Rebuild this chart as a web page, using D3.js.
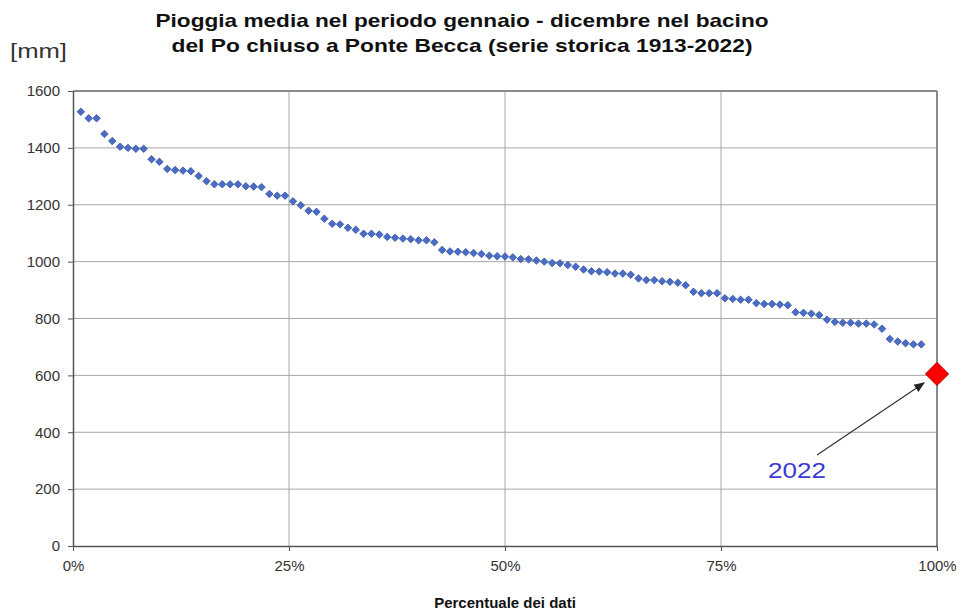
<!DOCTYPE html>
<html>
<head>
<meta charset="utf-8">
<script src="https://cdn.jsdelivr.net/npm/d3@7/dist/d3.min.js"></script>
<style>
  html, body { margin: 0; padding: 0; background: #fff; }
  svg { display: block; font-family: "Liberation Sans", Arial, sans-serif; }
</style>
</head>
<body>
<svg id="chart" width="962" height="613"></svg>
<script>
// ---- data (ranked annual rainfall, mm) ----
const titleLines = [
  "Pioggia media nel periodo gennaio - dicembre nel bacino",
  "del Po chiuso a Ponte Becca (serie storica 1913-2022)"
];
const totalYears = 110;
const rankedValues = [
  1527, 1504, 1504, 1449, 1424, 1404, 1400, 1397, 1397, 1360,
  1351, 1326, 1322, 1320, 1318, 1301, 1283, 1272, 1272, 1272,
  1272, 1265, 1264, 1262, 1238, 1232, 1232, 1212, 1198, 1179,
  1175, 1151, 1133, 1131, 1119, 1112, 1098, 1098, 1095, 1087,
  1084, 1081, 1079, 1075, 1075, 1068, 1041, 1036, 1035, 1033,
  1030, 1027, 1021, 1019, 1018, 1015, 1009, 1008, 1004, 1000,
  995, 994, 988, 982, 972, 966, 965, 963, 958, 958,
  954, 941, 935, 935, 931, 929, 926, 917, 894, 889,
  889, 889, 871, 869, 866, 866, 854, 851, 851, 849,
  847, 822, 820, 817, 812, 796, 788, 785, 785, 782,
  782, 779, 764, 728, 719, 713, 709, 709
];
const highlightYear = "2022";
const highlightValue = 605;
const highlightRank = 110;
const yTicks = [0, 200, 400, 600, 800, 1000, 1200, 1400, 1600];
const xTicks = [0, 0.25, 0.5, 0.75, 1];

// ---- layout ----
const W = 962, H = 613;
const m = { top: 91, right: 25, bottom: 67, left: 73 };
const iw = W - m.left - m.right, ih = H - m.top - m.bottom;

const svg = d3.select("#chart");
const g = svg.append("g").attr("transform", `translate(${m.left},${m.top})`);

const x = d3.scaleLinear().domain([0, 1]).range([0, iw]);
const y = d3.scaleLinear().domain([0, 1600]).range([ih, 0]);

// grid
g.append("g").selectAll("line").data(yTicks.filter(d => d > 0 && d < 1600)).join("line")
  .attr("x1", 0).attr("x2", iw).attr("y1", d => y(d)).attr("y2", d => y(d))
  .attr("stroke", "#a6a6a6").attr("stroke-width", 1);
g.append("g").selectAll("line").data(xTicks.filter(d => d > 0 && d < 1)).join("line")
  .attr("y1", 0).attr("y2", ih).attr("x1", d => x(d)).attr("x2", d => x(d))
  .attr("stroke", "#a6a6a6").attr("stroke-width", 1);

// frame (top / right)
g.append("line").attr("x1", 0).attr("x2", iw).attr("y1", 0).attr("y2", 0)
  .attr("stroke", "#8a8a8a").attr("stroke-width", 2);
g.append("line").attr("x1", iw).attr("x2", iw).attr("y1", 0).attr("y2", ih)
  .attr("stroke", "#8a8a8a").attr("stroke-width", 2);

// axes
const yAxis = g.append("g")
  .call(d3.axisLeft(y).tickValues(yTicks).tickSize(5).tickSizeOuter(0).tickPadding(8).tickFormat(d3.format("d")));
const xAxis = g.append("g").attr("transform", `translate(0,${ih})`)
  .call(d3.axisBottom(x).tickValues(xTicks).tickSize(5).tickSizeOuter(0).tickPadding(9).tickFormat(d3.format(".0%")));
[yAxis, xAxis].forEach(a => {
  a.select(".domain").attr("stroke", "#555").attr("stroke-width", 1.5);
  a.selectAll(".tick line").attr("stroke", "#555");
  a.selectAll("text").attr("font-size", 15).attr("fill", "#333")
    .attr("font-family", "'Liberation Sans', Arial, sans-serif");
});

// points
const sq = d3.symbol().type(d3.symbolSquare);
g.append("g").selectAll("path").data(rankedValues).join("path")
  .attr("d", sq.size(28)())
  .attr("transform", (d, i) => `translate(${x((i + 1) / totalYears)},${y(d)}) rotate(45)`)
  .attr("fill", "#4a6cc4").attr("stroke", "#3a58ac").attr("stroke-width", 0.8);

// annotation arrow
svg.append("defs").append("marker")
  .attr("id", "ah").attr("viewBox", "0 0 10 10").attr("refX", 9).attr("refY", 5)
  .attr("markerWidth", 9).attr("markerHeight", 9).attr("orient", "auto")
  .append("path").attr("d", "M0,1 L10,5 L0,9 Z").attr("fill", "#222");

const hx = x(highlightRank / totalYears), hy = y(highlightValue);
g.append("line")
  .attr("x1", hx - 120).attr("y1", hy + 81)
  .attr("x2", hx - 13).attr("y2", hy + 9)
  .attr("stroke", "#333").attr("stroke-width", 1.2)
  .attr("marker-end", "url(#ah)");

// highlighted point
g.append("path")
  .attr("d", sq.size(260)())
  .attr("transform", `translate(${hx},${hy}) rotate(45)`)
  .attr("fill", "#ff0000").attr("stroke", "#d00000").attr("stroke-width", 1);

g.append("text")
  .attr("x", hx - 140).attr("y", hy + 104)
  .attr("text-anchor", "middle")
  .attr("font-size", 22).attr("fill", "#3a3ad0")
  .attr("textLength", 58).attr("lengthAdjust", "spacingAndGlyphs")
  .text(highlightYear);

// titles
const titleWidths = [613, 581];
titleLines.forEach((t, i) => {
  svg.append("text").attr("x", 462).attr("y", 27 + i * 25)
    .attr("text-anchor", "middle").attr("font-weight", "bold")
    .attr("font-size", 19).attr("fill", "#111")
    .attr("textLength", titleWidths[i]).attr("lengthAdjust", "spacingAndGlyphs")
    .text(t);
});

svg.append("text").attr("x", 10).attr("y", 58)
  .attr("font-size", 20).attr("fill", "#333")
  .attr("textLength", 57).attr("lengthAdjust", "spacingAndGlyphs")
  .text("[mm]");

svg.append("text").attr("x", 505).attr("y", 608)
  .attr("text-anchor", "middle").attr("font-weight", "bold")
  .attr("font-size", 15).attr("fill", "#111").text("Percentuale dei dati");
</script>
</body>
</html>
